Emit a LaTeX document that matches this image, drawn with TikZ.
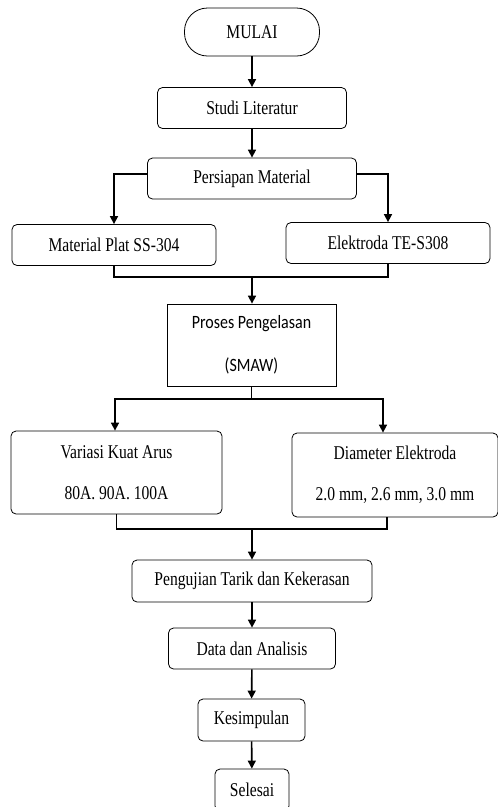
\documentclass[tikz,border=0pt]{standalone}
\usepackage{fontspec}
\setmainfont{Liberation Serif}[FakeStretch=0.8]
\newfontfamily\calfont{Carlito}[FakeStretch=0.85]
\usetikzlibrary{arrows.meta,positioning}
\tikzset{
  box/.style={draw, rounded corners=5pt, line width=0.8pt, inner sep=0pt, align=center,
    font=\fontsize{19.5}{22}\selectfont},
  tallbox/.style={box, font=\fontsize{19.5}{41}\selectfont},
  plainbox/.style={draw, line width=0.8pt, inner sep=0pt, align=center,
    font=\calfont\fontsize{18.8}{43}\selectfont},
  terminal/.style={box, rounded corners=23pt},
  flow/.style={line width=1.6pt, -{Triangle[length=8pt,width=8pt]}},
  link/.style={line width=1.6pt},
}

\begin{document}
\begin{tikzpicture}[x=1pt,y=-1pt]
    \useasboundingbox (0,0) rectangle (498,807);

    % Start and first steps
    \node[terminal, minimum width=135pt, minimum height=48pt] (mulai) at (252,32) {MULAI};
    \node[box, minimum width=189pt, minimum height=41pt] (studi) at (252,108) {Studi Literatur};
    \node[box, minimum width=209pt, minimum height=41pt] (persiapan) at (252,178.5) {Persiapan Material};

    % Materials
    \node[box, minimum width=204pt, minimum height=41pt] (material) at (114,245) {Material Plat SS-304};
    \node[box, minimum width=204pt, minimum height=41pt] (elektroda) at (388,243) {Elektroda TE-S308};

    % Welding
    \node[plainbox, minimum width=169pt, minimum height=82pt] (proses) at (251.5,345) {Proses Pengelasan\\(SMAW)};

    % Variations
    \node[tallbox, minimum width=211pt, minimum height=83pt] (variasi) at (116.5,472.5) {Variasi Kuat Arus\\80A. 90A. 100A};
    \node[tallbox, minimum width=206pt, minimum height=84pt] (diameter) at (395,475) {Diameter Elektroda\\2.0 mm, 2.6 mm, 3.0 mm};

    % Testing and end
    \node[box, minimum width=240pt, minimum height=42pt] (pengujian) at (252,581) {Pengujian Tarik dan Kekerasan};
    \node[box, minimum width=167pt, minimum height=41pt] (data) at (252,648.5) {Data dan Analisis};
    \node[box, minimum width=107pt, minimum height=42pt] (kesimpulan) at (251.5,720) {Kesimpulan};
    \node[box, minimum width=74pt, minimum height=42pt] (selesai) at (252,790) {Selesai};

    % Junction points
    \coordinate (join1) at (252,277);
    \coordinate (split) at (251.5,399);
    \coordinate (join2) at (252,529);

    % Connectors
    \draw[flow] (mulai) -- (studi);
    \draw[flow] (studi) -- (persiapan);
    \draw[flow] ([yshift=4.5pt]persiapan.west) -| (material);
    \draw[flow] ([yshift=4.5pt]persiapan.east) -| (elektroda);
    \draw[link] (material.south) |- (join1) -| (elektroda.south);
    \draw[flow] (join1) -- (join1 |- proses.north);
    \draw[link] (proses.south) -- (split);
    \draw[flow] (split) -| ([xshift=-1.5pt]variasi.north);
    \draw[flow] (split) -| ([xshift=-12pt]diameter.north);
    \draw[link] (variasi.south) |- (join2) -| ([xshift=-8pt]diameter.south);
    \draw[flow] (join2) -- (join2 |- pengujian.north);
    \draw[flow] (pengujian) -- (data);
    \draw[flow] (data) -- (kesimpulan);
    \draw[flow] (kesimpulan) -- (selesai);
\end{tikzpicture}
\end{document}
